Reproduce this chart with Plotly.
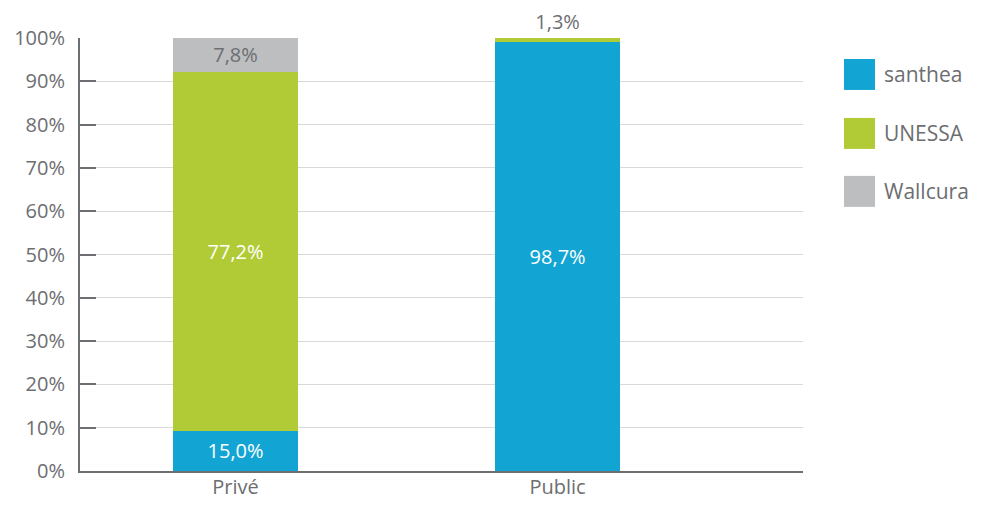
import plotly.graph_objects as go

categories = ["Privé", "Public"]
series = ["santhea", "UNESSA", "Wallcura"]
colors = ["#12a5d4", "#b0cb35", "#bcbec0"]
# segment heights as drawn in the picture (% of axis)
santhea_vals = [9.3, 99.1]
unessa_vals = [82.9, 0.9]
wallcura_vals = [7.8, 0.0]
# printed labels
santhea_labels = ["15,0%", "98,7%"]
unessa_labels = ["77,2%", "1,3%"]
wallcura_labels = ["7,8%", ""]
y_ticks = [0, 10, 20, 30, 40, 50, 60, 70, 80, 90, 100]
y_tick_text = ["0%", "10%", "20%", "30%", "40%", "50%", "60%", "70%", "80%", "90%", "100%"]

FONT = "Open Sans"
GREY_TXT = "#6d6e71"
FS = 20

OFF = 8  # page body margin
W, H = 982 - 2 * OFF, 508 - 2 * OFF
L, R, T, B = 80 - OFF, 803 - OFF, 38 - OFF, 471.3 - OFF

fig = go.Figure()
fig.add_trace(go.Bar(x=categories, y=santhea_vals, name=series[0], marker_color=colors[0],
                     text=santhea_labels, textposition="inside", insidetextanchor="middle",
                     textfont=dict(color="white", size=FS, family=FONT), constraintext="none"))
fig.add_trace(go.Bar(x=categories, y=unessa_vals, name=series[1], marker_color=colors[1],
                     text=unessa_labels, textposition=["inside", "outside"], insidetextanchor="middle",
                     insidetextfont=dict(color="white", size=FS, family=FONT),
                     outsidetextfont=dict(color=GREY_TXT, size=FS, family=FONT),
                     constraintext="none", cliponaxis=False))
fig.add_trace(go.Bar(x=categories, y=wallcura_vals, name=series[2], marker_color=colors[2],
                     text=wallcura_labels, textposition="inside", insidetextanchor="middle",
                     textfont=dict(color=GREY_TXT, size=FS, family=FONT), constraintext="none"))

fig.update_traces(width=0.388, marker_line_width=0)

fig.update_layout(
    width=W, height=H, barmode="stack", showlegend=False,
    margin=dict(l=L, r=W - R, t=T, b=H - B, autoexpand=False),
    plot_bgcolor="white", paper_bgcolor="white",
    font=dict(family=FONT, color=GREY_TXT, size=FS),
    uniformtext=dict(minsize=FS, mode="show"),
    xaxis=dict(range=[-0.483, 1.762], showline=True, linecolor=GREY_TXT, linewidth=2,
               ticks="", tickfont=dict(size=FS, color=GREY_TXT, family=FONT), showgrid=False,
               automargin=False, ticklabelstandoff=-3),
    yaxis=dict(range=[0, 100], tickmode="array", tickvals=y_ticks, ticktext=y_tick_text,
               showgrid=True, gridcolor="#d9d9d9", gridwidth=1, zeroline=False,
               showline=True, linecolor=GREY_TXT, linewidth=2,
               ticks="inside", ticklen=16, tickwidth=2, tickcolor=GREY_TXT,
               tickfont=dict(size=FS, color=GREY_TXT, family=FONT), automargin=False,
               ticklabelstandoff=9),
)

def px_x(px):
    return (px - OFF - L) / (R - L)

def px_y(py):
    return (B - (py - OFF)) / (B - T)

legend_tops = [59, 118, 176]
for name, col, top in zip(series, colors, legend_tops):
    fig.add_shape(type="rect", xref="paper", yref="paper",
                  x0=px_x(844), x1=px_x(875), y0=px_y(top + 31), y1=px_y(top),
                  fillcolor=col, line_width=0)
    fig.add_annotation(xref="paper", yref="paper", x=px_x(882), y=px_y(top + 15.5),
                       text=name, showarrow=False, xanchor="left", yanchor="middle",
                       font=dict(size=FS + 1, color=GREY_TXT, family=FONT))

fig.write_html("out.html")
